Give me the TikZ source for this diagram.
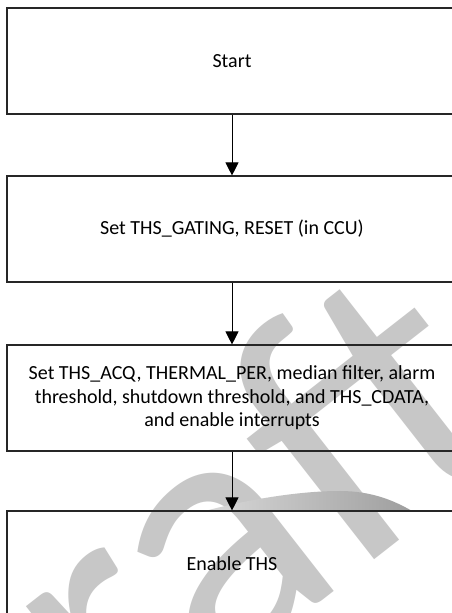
\documentclass[tikz,border=0pt]{standalone}
\usepackage{fontspec}
\setmainfont{Carlito}
\usetikzlibrary{arrows.meta}
\begin{document}
\begin{tikzpicture}[x=1pt,y=1pt,
  flowbox/.style={draw=black!85, line width=1.1pt, minimum width=450pt, minimum height=106pt,
    inner sep=0pt, align=center, font=\fontsize{20}{23.5}\selectfont},
  flowarrow/.style={draw=black, line width=0.9pt, -{Triangle[length=13pt,width=13pt]}},
  wmark/.style={text=black!22, font=\fontsize{370}{370}\selectfont, rotate=38, inner sep=0pt}]
\useasboundingbox (0,0) rectangle (452,613);
\clip (0,0) rectangle (452,613);
\fill[white] (0,0) rectangle (452,613);
\node[wmark, anchor=base east] (wm) at (530,175) {Draft};
\shade[left color=black!15, right color=black!38]
  (205,102) .. controls (250,114) and (300,122) .. (340,122)
  .. controls (372,122) and (395,112) .. (412,102) -- cycle;
\node[flowbox] (b1) at (232,552) {Start};
\node[flowbox] (b2) at (232,384) {Set THS\_GATING, RESET (in CCU)};
\node[flowbox] (b3) at (232,215) {Set THS\_ACQ, THERMAL\_PER, median filter, alarm\\threshold, shutdown threshold, and THS\_CDATA,\\and enable interrupts};
\node[flowbox] (b4) at (232,49) {Enable THS};
\draw[flowarrow] (b1) -- (b2);
\draw[flowarrow] (b2) -- (b3);
\draw[flowarrow] (b3) -- (b4);
\end{tikzpicture}
\end{document}
